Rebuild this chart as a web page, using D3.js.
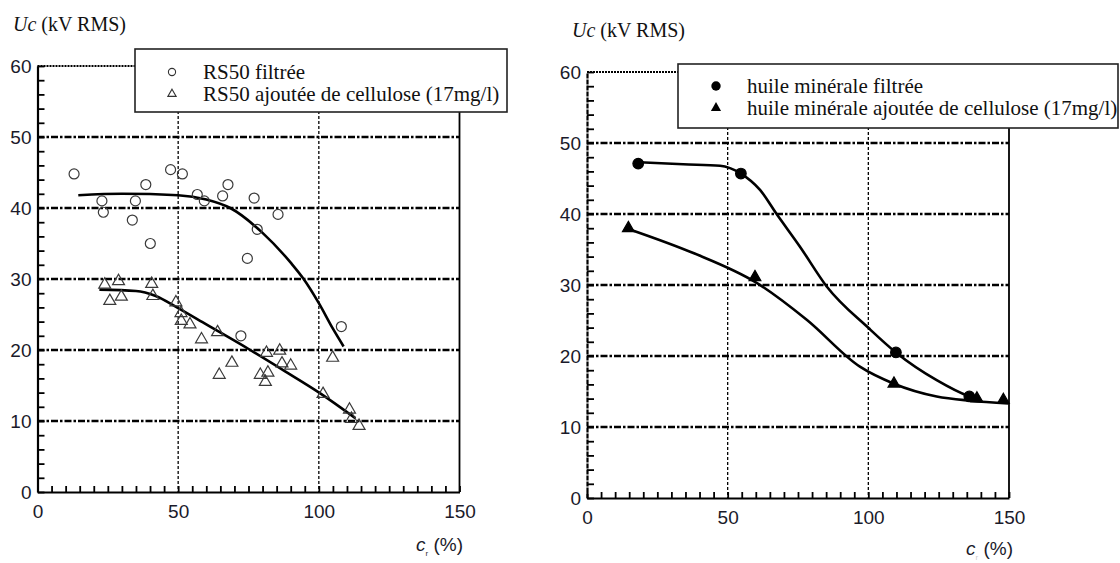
<!DOCTYPE html>
<html><head><meta charset="utf-8">
<script src="https://cdn.jsdelivr.net/npm/d3@7"></script>
<style>
html,body{margin:0;padding:0;background:#fff;}
svg{display:block;}
.tick text{font-family:"Liberation Sans",Arial,sans-serif;}
</style>
</head><body>
<script>
// ---------- DATA ----------
const xTickLabels = [0, 50, 100, 150];
const yTickLabels = [0, 10, 20, 30, 40, 50, 60];
const yTitle = ["Uc", " (kV RMS)"];
const xTitle = ["c", "r", " (%)"];

// left panel: RS50
const leftLegend = ["RS50 filtrée", "RS50 ajoutée de cellulose (17mg/l)"];
const rs50FiltX = [13.0, 22.9, 23.4, 38.5, 34.8, 33.7, 40.1, 47.3, 51.5, 56.8, 59.3, 65.8, 67.7, 77.0, 78.1, 74.6, 85.5, 108.0, 72.3];
const rs50FiltY = [44.8, 41.0, 39.4, 43.3, 41.0, 38.3, 35.0, 45.4, 44.8, 41.9, 41.0, 41.7, 43.3, 41.4, 37.0, 32.9, 39.1, 23.3, 22.0];
const rs50CellX = [23.9, 28.8, 25.7, 29.8, 40.6, 41.0, 49.2, 51.0, 51.1, 54.2, 58.3, 64.0, 64.6, 69.1, 81.4, 86.1, 79.2, 81.9, 81.0, 86.9, 90.0, 104.9, 101.5, 110.9, 111.6, 114.3];
const rs50CellY = [29.2, 29.7, 26.9, 27.5, 29.3, 27.6, 26.7, 25.2, 24.1, 23.6, 21.5, 22.5, 16.5, 18.2, 19.6, 19.9, 16.5, 16.8, 15.5, 18.1, 17.8, 18.9, 13.8, 11.6, 10.3, 9.3];
const rs50FiltFitX = [14.5, 30, 50, 60, 68.5, 80, 90, 94.6, 100, 105, 108.8];
const rs50FiltFitY = [41.8, 42.0, 41.8, 41.2, 40.0, 36.5, 32.3, 30.0, 26.6, 23.0, 20.5];
const rs50CellFitX = [22, 35, 42, 50, 60, 75.6, 88, 100.5, 113];
const rs50CellFitY = [28.5, 28.3, 27.6, 25.9, 23.6, 20.0, 17.0, 13.9, 10.4];

// right panel: mineral oil
const rightLegend = ["huile minérale filtrée", "huile minérale ajoutée de cellulose (17mg/l)"];
const oilFiltX = [18.2, 54.7, 109.8, 135.9];
const oilFiltY = [47.1, 45.7, 20.5, 14.3];
const oilCellX = [14.7, 59.7, 109.1, 138.6, 148.0];
const oilCellY = [38.0, 31.1, 16.1, 14.0, 13.8];
const oilFiltFitX = [18.2, 34.2, 47.3, 54.7, 61.5, 67.4, 75.7, 85.2, 100.2, 109.8, 124.3, 135.9, 139.7];
const oilFiltFitY = [47.3, 47.0, 46.8, 45.7, 43.4, 40.0, 35.4, 29.8, 23.9, 20.5, 16.6, 14.3, 13.8];
const oilCellFitX = [14.7, 37.8, 60.3, 78.1, 97.0, 109.1, 124.3, 136.2, 149.8];
const oilCellFitY = [37.9, 34.5, 30.3, 25.1, 18.5, 16.1, 14.3, 13.7, 13.3];

// ---------- DRAW ----------
const W = 1120, H = 563;
const svg = d3.select("body").append("svg").attr("width", W).attr("height", H);
const serif = '"Liberation Serif","Times New Roman",serif';
const sans = '"Liberation Sans",Arial,sans-serif';

const zip = (xs, ys) => xs.map((x, i) => [x, ys[i]]);
const triPath = d3.symbol().type(d3.symbolTriangle);

function panel(cfg) {
  const x = d3.scaleLinear().domain([0, 150]).range(cfg.xr);
  const y = d3.scaleLinear().domain([0, 60]).range(cfg.yr);
  const g = svg.append("g");

  // horizontal grid (dash-dot)
  g.selectAll("line.hg").data(yTickLabels.filter(v => v > 0 && v < 60)).join("line")
    .attr("x1", x(0)).attr("x2", x(150)).attr("y1", d => y(d)).attr("y2", d => y(d))
    .attr("stroke", "#000").attr("stroke-width", 2.6).attr("stroke-dasharray", "7,2,2.5,2");
  // top line at 60 (dotted)
  g.append("line").attr("x1", x(0)).attr("x2", x(150)).attr("y1", y(60)).attr("y2", y(60))
    .attr("stroke", "#000").attr("stroke-width", 2).attr("stroke-dasharray", "2,1");
  // vertical grid (dashed)
  g.selectAll("line.vg").data([50, 100]).join("line")
    .attr("x1", d => x(d)).attr("x2", d => x(d)).attr("y1", y(60)).attr("y2", y(0))
    .attr("stroke", "#000").attr("stroke-width", 1.3).attr("stroke-dasharray", "3,2");
  // right border
  g.append("line").attr("x1", x(150)).attr("x2", x(150)).attr("y1", y(60)).attr("y2", y(0))
    .attr("stroke", "#000").attr("stroke-width", 1.8);

  // x axis
  const xa = d3.axisBottom(x).tickValues(d3.range(0, 151, 5)).tickSize(-6).tickSizeOuter(0)
    .tickFormat(d => xTickLabels.includes(d) ? d : "");
  const gx = g.append("g").attr("transform", `translate(0,${y(0)})`).call(xa);
  gx.select(".domain").attr("stroke-width", 2.2);
  gx.selectAll(".tick line").attr("stroke-width", 1.8).attr("stroke", "#000");
  gx.selectAll(".tick text").attr("font-size", 19).attr("fill", "#1a1a2a").attr("dy", "1.05em").attr("y", 6);

  // y axis
  const ya = d3.axisLeft(y).tickValues(d3.range(0, 61, 2)).tickSize(-7).tickSizeOuter(0)
    .tickFormat(d => yTickLabels.includes(d) ? d : "");
  const gy = g.append("g").attr("transform", `translate(${x(0)},0)`).call(ya);
  gy.select(".domain").attr("stroke-width", 2.2).attr("stroke-dasharray", cfg.dashedAxis ? "5,1" : null);
  gy.selectAll(".tick line").attr("stroke-width", 1.8).attr("stroke", "#000");
  gy.selectAll(".tick text").attr("font-size", 19).attr("fill", "#1a1a2a").attr("x", -6).attr("dy", "0.36em");

  // fit curves
  const line = d3.line().x(d => x(d[0])).y(d => y(d[1])).curve(d3.curveMonotoneX);
  cfg.fits.forEach(f => {
    g.append("path").attr("d", line(f)).attr("fill", "none").attr("stroke", "#000").attr("stroke-width", 2.6);
  });

  // markers
  g.selectAll("path.tri").data(cfg.tris).join("path")
    .attr("d", triPath.size(cfg.filled ? 60 : 62)())
    .attr("transform", d => `translate(${x(d[0])},${y(d[1])})`)
    .attr("fill", cfg.filled ? "#000" : "none").attr("stroke", cfg.filled ? "#000" : "#3a3a3a").attr("stroke-width", 1.2);
  g.selectAll("circle.pt").data(cfg.circles).join("circle")
    .attr("cx", d => x(d[0])).attr("cy", d => y(d[1])).attr("r", cfg.filled ? 5.3 : 5)
    .attr("fill", cfg.filled ? "#000" : "none").attr("stroke", cfg.filled ? "#000" : "#3a3a3a").attr("stroke-width", 1.2);

  // legend box
  const L = cfg.legend;
  g.append("rect").attr("x", L.x).attr("y", L.y).attr("width", L.w).attr("height", L.h)
    .attr("fill", "#fff").attr("stroke", "#222").attr("stroke-width", 1.6);
  if (cfg.filled) {
    g.append("circle").attr("cx", L.mx).attr("cy", L.l1 - 7).attr("r", 4.7).attr("fill", "#000");
    g.append("path").attr("d", triPath.size(45)()).attr("transform", `translate(${L.mx},${L.l2 - 7})`).attr("fill", "#000");
  } else {
    g.append("circle").attr("cx", L.mx).attr("cy", L.l1 - 7).attr("r", 3.6).attr("fill", "none").attr("stroke", "#333").attr("stroke-width", 1.1);
    g.append("path").attr("d", triPath.size(30)()).attr("transform", `translate(${L.mx},${L.l2 - 7})`).attr("fill", "none").attr("stroke", "#333").attr("stroke-width", 1.1);
  }
  [L.l1, L.l2].forEach((yy, i) => {
    g.append("text").attr("x", L.tx).attr("y", yy).attr("font-family", serif).attr("font-size", 21)
      .attr("fill", "#111").text(cfg.legendText[i]);
  });

  // y title
  const t = g.append("text").attr("x", cfg.yt[0]).attr("y", cfg.yt[1]).attr("font-family", serif).attr("font-size", 20).attr("fill", "#111");
  t.append("tspan").attr("font-style", "italic").text(yTitle[0]);
  t.append("tspan").text(yTitle[1]);

  // x title
  const xt = g.append("text").attr("x", cfg.xt[0]).attr("y", cfg.xt[1]).attr("font-family", sans).attr("font-size", 19).attr("fill", "#1a1a2a");
  xt.append("tspan").attr("font-style", "italic").text(xTitle[0]);
  xt.append("tspan").attr("font-size", 8).attr("dy", 5).attr("fill", cfg.filled ? "#ccc" : "#333").text(xTitle[1]);
  xt.append("tspan").attr("dy", -5).text(xTitle[2]);
}

panel({
  xr: [37.5, 459.5], yr: [492, 66], filled: false, dashedAxis: false,
  circles: zip(rs50FiltX, rs50FiltY), tris: zip(rs50CellX, rs50CellY),
  fits: [zip(rs50FiltFitX, rs50FiltFitY), zip(rs50CellFitX, rs50CellFitY)],
  legend: {x: 135, y: 49, w: 372, h: 63, mx: 172, tx: 203, l1: 79, l2: 101},
  legendText: leftLegend,
  yt: [13, 31], xt: [416, 551]
});

panel({
  xr: [587, 1009], yr: [498, 72], filled: true, dashedAxis: true,
  circles: zip(oilFiltX, oilFiltY), tris: zip(oilCellX, oilCellY),
  fits: [zip(oilFiltFitX, oilFiltFitY), zip(oilCellFitX, oilCellFitY)],
  legend: {x: 678, y: 64, w: 440, h: 64, mx: 716, tx: 747, l1: 93, l2: 115},
  legendText: rightLegend,
  yt: [572, 37], xt: [966, 555]
});
</script>
</body></html>
